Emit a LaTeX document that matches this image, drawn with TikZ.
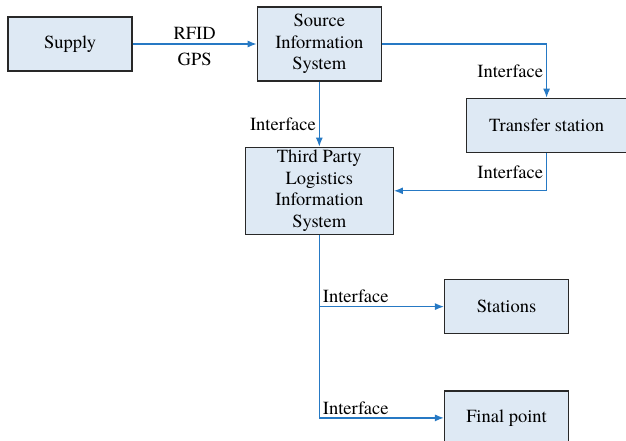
\documentclass[tikz,border=0pt]{standalone}
\usepackage{fontspec}
\setmainfont{texgyretermes}[Extension=.otf, UprightFont=*-regular, BoldFont=*-bold]
\usetikzlibrary{positioning,arrows.meta}
\definecolor{boxfill}{RGB}{222,233,244}
\definecolor{boxline}{RGB}{40,40,40}
\definecolor{flow}{RGB}{38,121,196}

\begin{document}
\begin{tikzpicture}[
    box/.style={draw=boxline, line width=1.3pt, fill=boxfill, align=center, inner sep=0pt,
      minimum width=124pt, minimum height=54pt, font=\fontsize{18.5}{21.5}\selectfont},
    link/.style={draw=flow, line width=1.2pt, -{Latex[length=9pt,width=7pt]}},
    tag/.style={font=\fontsize{18.5}{21.5}\selectfont, inner sep=3pt}]
    \useasboundingbox (0pt,0pt) rectangle (626pt,-440pt);
    \node[box] (supply) at (70pt,-44pt) {Supply};
    \node[box, minimum height=74pt] (source) [right=124pt of supply] {Source\\Information\\System};
    \node[box, minimum width=160pt] (transfer) [below right=16pt and 84pt of source] {Transfer station};
    \node[box, minimum width=148pt, minimum height=87pt] (third) [below=65pt of source] {Third Party\\Logistics\\Information\\System};
    \node[box] (stations) [below right=44pt and 50pt of third] {Stations};
    \node[box] (final) [below=56pt of stations] {Final point};

    \draw[link] (supply.east) -- (supply.east -| source.west)
      node[tag, midway, above, yshift=1pt] {RFID}
      node[tag, midway, below, yshift=-5pt] {GPS};
    \draw[link] (source.east) -| (transfer.north)
      node[tag, pos=0.75, left] {Interface};
    \draw[link] (source) -- (third)
      node[tag, pos=0.65, left] {Interface};
    \draw[link] (transfer.south) |- (third.east)
      node[tag, pos=0.25, left] {Interface};
    \draw[link] (third.south) |- (stations.west)
      node[tag, pos=0.5, above right] {Interface};
    \draw[link] (third.south) |- (final.west)
      node[tag, pos=0.5, above right] {Interface};
\end{tikzpicture}
\end{document}
